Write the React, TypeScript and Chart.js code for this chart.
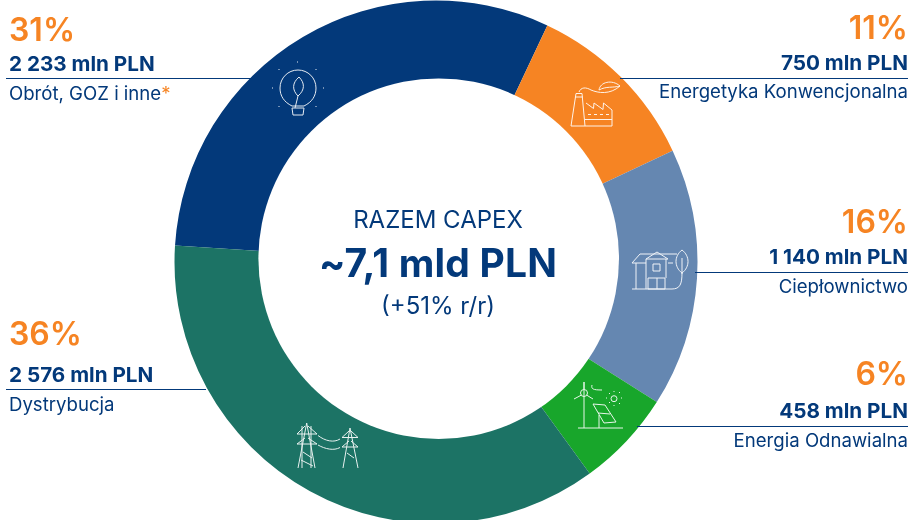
import React, { useEffect, useRef } from "react";
import { Chart, registerables } from "chart.js";

Chart.register(...registerables);

const categories = ["Obrót, GOZ i inne", "Energetyka Konwencjonalna", "Ciepłownictwo", "Energia Odnawialna", "Dystrybucja"];
const shares = [31, 11, 16, 6, 36];
const amountLabels = ["2 233 mln PLN", "750 mln PLN", "1 140 mln PLN", "458 mln PLN", "2 576 mln PLN"];
const shareLabels = ["31%", "11%", "16%", "6%", "36%"];
const colors = ["#03397A", "#F68423", "#6587B1", "#18A62B", "#1C7365"];

const NAVY = "#03397A";
const ORANGE = "#F68423";
const FONT = "Inter, 'Noto Sans', sans-serif";

type Lbl = { i: number; side: "l" | "r"; pctTop: number; amtTop: number; subTop: number; lineY: number; lineFrom: number; lineTo: number };
const labels: Lbl[] = [
  { i: 0, side: "l", pctTop: 14, amtTop: 54, subTop: 84, lineY: 78, lineFrom: 6, lineTo: 252 },
  { i: 1, side: "r", pctTop: 12, amtTop: 53, subTop: 82, lineY: 78, lineFrom: 620, lineTo: 908 },
  { i: 2, side: "r", pctTop: 206, amtTop: 247, subTop: 277, lineY: 272, lineFrom: 695, lineTo: 908 },
  { i: 3, side: "r", pctTop: 358, amtTop: 401, subTop: 431, lineY: 426, lineFrom: 637, lineTo: 908 },
  { i: 4, side: "l", pctTop: 318, amtTop: 365, subTop: 395, lineY: 389, lineFrom: 6, lineTo: 206 },
];

const S = { fill: "none", stroke: "#fff", strokeWidth: 1, opacity: 0.9 } as const;

function Icons() {
  return (
    <svg width={910} height={520} style={{ position: "absolute", left: 0, top: 0 }}>
      <circle cx="438.7" cy="258.7" r="180.3" fill="#fff" />
      <g {...S}>
        {/* bulb */}
        <path d="M292 106 C284 102 280 96 280 88 C280 78 288 70 298 70 C308 70 316 78 316 88 C316 96 312 102 304 106 Z" />
        <path d="M292 108 h12 l-1 7 h-10 z" />
        <path d="M299 77 C292 83 292 90 298 96 C305 90 305 83 299 77 Z M298 96 L295 108" />
        <path d="M297 62h1 M279 69v1 M316 69v1 M272 88h1 M323 88h1 M279 106v1 M316 106v1" />
        {/* factory */}
        <path d="M571 126 L576 93.5 H582 L585 126 Z M575 97 H583" />
        <path d="M585 126 H612 V110 L603.5 103 L603 109.5 L594 103 L593.5 108.5 L586 103 M585 119.5 H612 M588 114.5h3 M594 114.5h3 M600 114.5h3 M606 114.5h3" />
        <path d="M579 92 C581 87 586 87 591 90 C598 93 610 95 620 86" />
        <path d="M599 90 C600 82 612 79 620 86 C613 88 606 86 599 90" />
        {/* house */}
        <path d="M632 263 L640 254 H677 M632 263 H646 M636 263 V289 M646 259 L657 252 L668 259 Z" />
        <path d="M646 259 V289 M666 259 V278 M668 263 h5 M653 264 h7 v7 h-7 z M648 278 h17 v11 h-17 z M657 278 V289 M632 289 H672 C680 289 682 284 682 273" />
        <path d="M682 250 C690 256 690 267 682 273 C674 267 674 256 682 250 Z M682 258 V274" />
        {/* wind + solar */}
        <path d="M584 382 V428 M578 428 H623 M581.5 395 L574 399 M586.5 395 L593 399 M584 382 V389.5" />
        <circle cx="584" cy="393" r="3.5" />
        <path d="M592 385 C591 389 593 390 602 390" />
        <circle cx="614" cy="398.7" r="3" />
        <path d="M606 398h1 M621 398h1 M614 391v1 M614 405v1 M609 393l1 1 M619 403l1 1 M609 403l1 -1 M619 393l1 -1" />
        <path d="M593 404 L605 405 L616 422 L604 423 Z M598 413 L610 414 M599 428 V415" />
        {/* pylons */}
        <path d="M298 468 L306.7 423 L315 468 M302 426 V468 M311 426 V468 M297 434 H317 L308 426 M297 434 L305 426 M297 444 H317 L308 438 M297 444 L305 438 M303 452 L312 458 M301 460 L313 466" />
        <path d="M343 468 L350 428 L358 468 M342 437.5 H358 L351 431 M342 437.5 L349 431 M342 447 H358 L351 441 M342 447 L349 441 M347 453 L354 458" />
        <path d="M318 435.5 C325 441 334 443 340 439 M318 445 C325 449 334 451 340 447.5" />
      </g>
    </svg>
  );
}

export default function App() {
  const ref = useRef<HTMLCanvasElement>(null);
  useEffect(() => {
    const chart = new Chart(ref.current!, {
      type: "doughnut",
      data: {
        labels: categories,
        datasets: [{ data: shares, backgroundColor: colors, borderWidth: 0 }],
      },
      options: {
        animation: false,
        responsive: false,
        maintainAspectRatio: false,
        rotation: -86.4,
        radius: 261.5,
        cutout: 170,
        layout: { padding: { left: 0, right: 38, top: 0, bottom: 0 } },
        plugins: { legend: { display: false }, tooltip: { enabled: false } },
      },
    });
    return () => chart.destroy();
  }, []);

  const base: React.CSSProperties = { position: "absolute", whiteSpace: "nowrap", fontFamily: FONT, lineHeight: 1 };
  return (
    <div style={{ position: "fixed", left: 0, top: 0, width: 910, height: 520, overflow: "hidden", background: "#fff" }}>
      <canvas ref={ref} width={910} height={540} style={{ position: "absolute", left: 0, top: -8 }} />
      <Icons />
      {labels.map((l) => {
        const pos: React.CSSProperties = l.side === "l" ? { left: 9 } : { right: 2 };
        return (
          <React.Fragment key={l.i}>
            <div style={{ position: "absolute", left: l.lineFrom, top: l.lineY, width: l.lineTo - l.lineFrom, height: 1, background: NAVY }} />
            <div style={{ ...base, ...pos, top: l.pctTop, fontSize: 32, fontWeight: 600, color: ORANGE }}>{shareLabels[l.i]}</div>
            <div style={{ ...base, ...pos, top: l.amtTop, fontSize: 20.7, fontWeight: 700, color: NAVY }}>{amountLabels[l.i]}</div>
            <div style={{ ...base, ...pos, top: l.subTop, fontSize: 18.6, fontWeight: 400, color: NAVY }}>
              {categories[l.i]}
              {l.i === 0 ? <span style={{ color: ORANGE }}>*</span> : null}
            </div>
          </React.Fragment>
        );
      })}
      <div style={{ ...base, left: 238, width: 400, textAlign: "center", top: 208, fontSize: 24, color: NAVY }}>RAZEM CAPEX</div>
      <div style={{ ...base, left: 238, width: 400, textAlign: "center", top: 243, fontSize: 39, fontWeight: 700, letterSpacing: 0.2, color: NAVY }}>~7,1 mld PLN</div>
      <div style={{ ...base, left: 238, width: 400, textAlign: "center", top: 294, fontSize: 24, color: NAVY }}>(+51% r/r)</div>
    </div>
  );
}
